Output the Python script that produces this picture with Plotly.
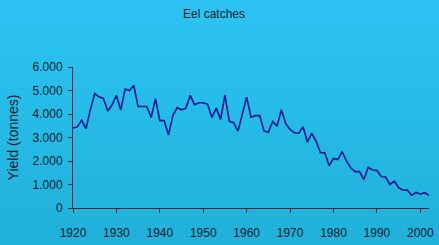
import plotly.graph_objects as go

years = list(range(1920, 2003))
yield_tonnes = [
    3400, 3450, 3730, 3380, 4180, 4870, 4730, 4660, 4130, 4390,
    4790, 4170, 5060, 5000, 5210, 4320, 4320, 4320, 3850, 4650,
    3720, 3720, 3110, 3930, 4270, 4180, 4250, 4790, 4390, 4480,
    4480, 4410, 3850, 4250, 3770, 4800, 3690, 3630, 3270, 3990,
    4720, 3860, 3930, 3930, 3280, 3220, 3680, 3480, 4180, 3590,
    3340, 3200, 3180, 3460, 2800, 3180, 2840, 2350, 2350, 1800,
    2110, 2060, 2400, 1990, 1700, 1550, 1550, 1210, 1730, 1620,
    1600, 1340, 1320, 1000, 1140, 870, 760, 760, 540, 660,
    590, 650, 540,
]
x_ticks = list(range(1920, 2001, 10))
y_ticks = list(range(0, 6001, 1000))

fig = go.Figure()
fig.add_trace(go.Scatter(
    x=years, y=yield_tonnes, mode="lines",
    line=dict(color="#12188f", width=1.6),
    hoverinfo="skip", showlegend=False,
))

# vertical gradient background built from thin bands
top = (44, 196, 243)
bot = (31, 174, 214)
n = 40
shapes = []
for i in range(n):
    t = i / (n - 1)
    c = tuple(round(top[k] + (bot[k] - top[k]) * t) for k in range(3))
    shapes.append(dict(
        type="rect", xref="paper", yref="paper", layer="below",
        x0=-1, x1=2, y0=1.5 - (i + 1) * 2.0 / n, y1=1.5 - i * 2.0 / n,
        fillcolor="rgb(%d,%d,%d)" % c, line=dict(width=0),
    ))

fig.update_layout(
    width=439, height=245,
    margin=dict(l=73, r=5, t=67, b=36),
    paper_bgcolor="rgb(38,186,230)",
    plot_bgcolor="rgba(0,0,0,0)",
    separators=",.",
    shapes=shapes,
    font=dict(family="Liberation Sans, Arial, sans-serif", size=12, color="#0d1f2c"),
    title=dict(text="Eel catches", x=214 / 439, xanchor="center",
               y=1 - 14 / 245, yanchor="middle",
               font=dict(size=12, color="#0d1f2c")),
    xaxis=dict(
        range=[1920, 2002], tickvals=x_ticks, ticktext=[str(v) for v in x_ticks],
        showgrid=False, zeroline=False, showline=True, linecolor="#1a2f3a", linewidth=1,
        ticks="outside", ticklen=4, tickcolor="#1a2f3a", ticklabelstandoff=10,
        tickfont=dict(size=12),
    ),
    yaxis=dict(
        range=[0, 6000], tickvals=y_ticks, tickformat=",d",
        showgrid=False, zeroline=False, showline=True, linecolor="#1a2f3a", linewidth=1,
        ticks="outside", ticklen=4, tickcolor="#1a2f3a", ticklabelstandoff=3,
        tickfont=dict(size=12),
        title=dict(text="Yield (tonnes)", font=dict(size=14), standoff=10),
    ),
)

fig.write_html(
    "out.html",
    config={"displayModeBar": False, "staticPlot": True},
    post_script="document.body.style.margin='0';document.body.style.padding='0';"
                "document.body.style.overflow='hidden';"
                "document.body.style.background='rgb(38,186,230)';",
)
